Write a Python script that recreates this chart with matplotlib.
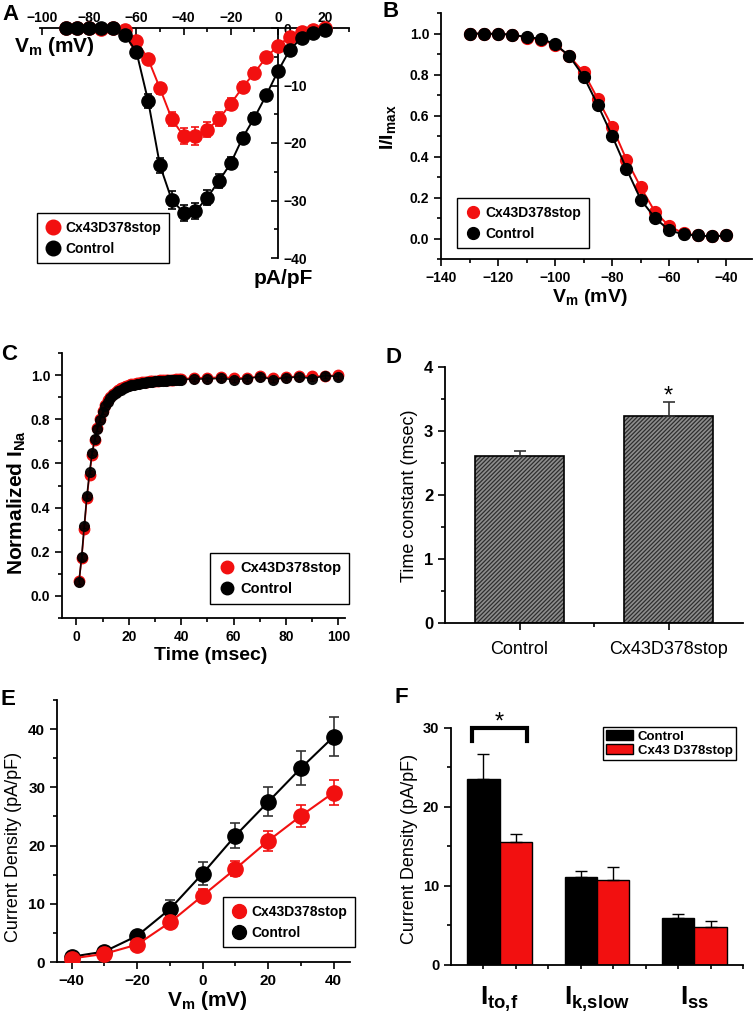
import matplotlib
matplotlib.use("Agg")
import matplotlib.pyplot as plt
from matplotlib.ticker import MultipleLocator, FixedLocator
from matplotlib.lines import Line2D
import numpy as np

plt.rcParams['font.family'] = ['Liberation Sans', 'DejaVu Sans']
plt.rcParams['font.weight'] = 'bold'
plt.rcParams['mathtext.fontset'] = 'custom'
plt.rcParams['mathtext.rm'] = 'Liberation Sans:bold'
plt.rcParams['mathtext.it'] = 'Liberation Sans:bold'
plt.rcParams['mathtext.bf'] = 'Liberation Sans:bold'
plt.rcParams['mathtext.default'] = 'rm'
plt.rcParams['hatch.linewidth'] = 0.9
plt.rcParams['axes.linewidth'] = 1.3

RED = '#f21010'
BLK = '#000000'

# ---- panel A: I-V of sodium current
vA = [-90, -85, -80, -75, -70, -65, -60, -55, -50, -45, -40, -35, -30, -25,
      -20, -15, -10, -5, 0, 5, 10, 15, 20]
redA = [0, 0, 0, -0.1, 0, -0.3, -2.2, -5.4, -10.5, -15.8, -18.8, -18.8, -17.7,
        -15.8, -13.2, -10.3, -7.8, -5.1, -3.1, -1.5, -0.7, -0.3, 0]
redA_err = [0, 0, 0, 0, 0, 0.2, 0.5, 0.8, 1.0, 1.2, 1.4, 1.5, 1.3, 1.2, 1.0,
            0.9, 0.8, 0.6, 0.5, 0.4, 0.3, 0.3, 0.2]
ctlA = [0, 0, 0, 0, 0, -1.2, -4.1, -12.7, -23.9, -29.9, -32.1, -31.9, -29.5,
        -26.6, -23.5, -19.1, -15.6, -11.7, -7.5, -3.8, -1.7, -0.8, -0.4]
ctlA_err = [0, 0, 0, 0, 0, 0.3, 0.6, 1.2, 1.3, 1.5, 1.4, 1.4, 1.3, 1.2, 1.0,
            0.9, 0.8, 0.8, 0.6, 0.5, 0.4, 0.3, 0.2]

# ---- panel B: steady-state inactivation
vB = [-130, -125, -120, -115, -110, -105, -100, -95, -90, -85, -80, -75, -70,
      -65, -60, -55, -50, -45, -40]
redB = [1.0, 0.997, 0.997, 0.995, 0.98, 0.97, 0.945, 0.89, 0.81, 0.68, 0.545,
        0.385, 0.25, 0.13, 0.06, 0.025, 0.015, 0.01, 0.015]
ctlB = [1.0, 1.0, 0.998, 0.995, 0.982, 0.975, 0.948, 0.89, 0.79, 0.65, 0.50,
        0.34, 0.19, 0.10, 0.04, 0.02, 0.015, 0.01, 0.015]

# ---- panel C: recovery from inactivation
tC = list(range(1, 41)) + [45, 50, 55, 60, 65, 70, 75, 80, 85, 90, 95, 100]
ctlC = [0.065, 0.178, 0.318, 0.452, 0.560, 0.647, 0.712, 0.758, 0.798, 0.832,
        0.858, 0.879, 0.895, 0.908, 0.918, 0.927, 0.934, 0.940, 0.945, 0.949,
        0.953, 0.956, 0.959, 0.961, 0.963, 0.965, 0.967, 0.968, 0.970, 0.971,
        0.972, 0.973, 0.974, 0.975, 0.976, 0.977, 0.978, 0.978, 0.979, 0.980,
        0.982, 0.983, 0.985, 0.980, 0.984, 0.993, 0.980, 0.988, 0.992, 0.984,
        0.998, 0.993]
redC = [0.068, 0.170, 0.305, 0.445, 0.548, 0.640, 0.708, 0.760, 0.803, 0.838,
        0.865, 0.886, 0.902, 0.915, 0.925, 0.933, 0.940, 0.946, 0.951, 0.955,
        0.958, 0.961, 0.963, 0.965, 0.967, 0.969, 0.970, 0.972, 0.973, 0.974,
        0.975, 0.976, 0.977, 0.978, 0.979, 0.980, 0.980, 0.981, 0.982, 0.982,
        0.988, 0.988, 0.990, 0.988, 0.986, 0.994, 0.986, 0.990, 0.995, 0.994,
        0.996, 1.000]

# ---- panel D: time constant
groupsD = ['Control', 'Cx43D378stop']
tauD = [2.61, 3.24]
tauD_err = [0.07, 0.22]

# ---- panel E: outward K current I-V
vE = [-40, -30, -20, -10, 0, 10, 20, 30, 40]
ctlE = [0.9, 1.8, 4.5, 9.1, 15.2, 21.7, 27.5, 33.3, 38.7]
ctlE_err = [0.3, 0.4, 0.6, 1.5, 1.9, 2.2, 2.5, 2.9, 3.4]
redE = [0.6, 1.4, 3.0, 6.8, 11.4, 16.0, 20.8, 25.1, 29.1]
redE_err = [0.2, 0.3, 0.5, 0.7, 1.1, 1.3, 1.7, 1.9, 2.1]

# ---- panel F: current components
compF = [r'I$_{to{,}f}$', r'I$_{k{,}slow}$', r'I$_{ss}$']
ctlF = [23.5, 11.1, 5.9]
ctlF_err = [3.2, 0.8, 0.55]
redF = [15.5, 10.8, 4.85]
redF_err = [1.1, 1.55, 0.75]

W, H = 756, 1018
fig = plt.figure(figsize=(W / 100, H / 100), dpi=100)


def box(l, t, r, b):
    return [l / W, 1 - b / H, (r - l) / W, (b - t) / H]


def ftxt(x, y, s, **kw):
    return fig.text(x / W, 1 - y / H, s, **kw)


def legend_at(ax, handles, labels, x, y, fs=10):
    lg = ax.legend(handles, labels, loc='upper left',
                   bbox_to_anchor=(x / W, 1 - y / H),
                   bbox_transform=fig.transFigure, fancybox=False,
                   framealpha=1, edgecolor='black',
                   handletextpad=0.3, borderpad=0.55, labelspacing=0.5,
                   handlelength=1.2, borderaxespad=0,
                   prop={'weight': 'bold', 'size': fs})
    lg.get_frame().set_linewidth(1.0)
    return lg


def dot(c, ms):
    return Line2D([], [], marker='o', ls='none', color=c, ms=ms)


def std_axes(ax):
    ax.spines['top'].set_visible(False)
    ax.spines['right'].set_visible(False)
    ax.tick_params(which='both', direction='out', width=1.2)
    ax.tick_params(which='major', length=5)
    ax.tick_params(which='minor', length=3)


# ================= A
axA = fig.add_axes(box(39.6, 28, 348.8, 258))
axA.set_xlim(-101, 30)
axA.set_ylim(-40, 0)
axA.spines['bottom'].set_visible(False)
axA.spines['left'].set_visible(False)
axA.spines['right'].set_position(('data', 0))
axA.xaxis.tick_top()
axA.yaxis.tick_right()
axA.set_xticks([-100, -80, -60, -40, -20, 0, 20])
axA.xaxis.set_minor_locator(MultipleLocator(10))
axA.set_yticks([0, -10, -20, -30, -40])
axA.yaxis.set_minor_locator(MultipleLocator(5))
axA.tick_params(axis='x', which='both', direction='in', labelsize=10, pad=2)
axA.tick_params(axis='y', which='both', direction='in', labelsize=10, pad=4)
axA.tick_params(which='major', length=5, width=1.2)
axA.tick_params(which='minor', length=3, width=1.2)
for lab in axA.get_yticklabels():
    lab.set_horizontalalignment('left')
axA.errorbar(vA, redA, yerr=redA_err, color=RED, ecolor=RED, marker='o', ms=9.5,
             lw=1.4, capsize=3, capthick=1.2, elinewidth=1.2, clip_on=False, zorder=3)
axA.errorbar(vA, ctlA, yerr=ctlA_err, color=BLK, ecolor=BLK, marker='o', ms=9.5,
             lw=1.4, capsize=3, capthick=1.2, elinewidth=1.2, clip_on=False, zorder=4)
legend_at(axA, [dot(RED, 10.5), dot(BLK, 10.5)], ['Cx43D378stop', 'Control'], 37, 213)
ftxt(14, 47, r'V$_{m}$ (mV)', fontsize=15, va='center', ha='left')
ftxt(283, 279, 'pA/pF', fontsize=15, va='center', ha='center')

# ================= B
axB = fig.add_axes(box(441, 13, 752, 259))
std_axes(axB)
axB.set_xlim(-140, -31)
axB.set_ylim(-0.1, 1.1)
axB.set_xticks([-140, -120, -100, -80, -60, -40])
axB.xaxis.set_minor_locator(MultipleLocator(10))
axB.set_yticks([0.0, 0.2, 0.4, 0.6, 0.8, 1.0])
axB.yaxis.set_minor_locator(MultipleLocator(0.1))
axB.tick_params(labelsize=10)
axB.errorbar(vB, redB, yerr=0.02, color=RED, marker='o', ms=8.5, lw=1.4,
             capsize=2, elinewidth=0.8, zorder=3)
axB.errorbar(vB, ctlB, yerr=0.02, color=BLK, marker='o', ms=8.5, lw=1.4,
             capsize=2, elinewidth=0.8, zorder=4)
legend_at(axB, [dot(RED, 8.5), dot(BLK, 8.5)], ['Cx43D378stop', 'Control'], 457, 198)
ftxt(590, 297, r'V$_{m}$ (mV)', fontsize=14, va='center', ha='center')
ftxt(388, 127, r'I/I$_{max}$', fontsize=14, va='center', ha='center', rotation=90)

# ================= C
axC = fig.add_axes(box(62, 353, 345, 618))
std_axes(axC)
axC.set_xlim(-5.5, 102.5)
axC.set_ylim(-0.1, 1.1)
axC.set_xticks([0, 20, 40, 60, 80, 100])
axC.xaxis.set_minor_locator(MultipleLocator(10))
axC.set_yticks([0.0, 0.2, 0.4, 0.6, 0.8, 1.0])
axC.yaxis.set_minor_locator(MultipleLocator(0.1))
axC.tick_params(labelsize=10)
axC.errorbar(tC, redC, yerr=0.01, color=RED, marker='o', ms=7.5, lw=1.2,
             capsize=1.5, elinewidth=0.8, zorder=3)
axC.errorbar(tC, ctlC, yerr=0.01, color=BLK, marker='o', ms=7, lw=1.2,
             capsize=1.5, elinewidth=0.8, zorder=4, alpha=0.9)
legend_at(axC, [dot(RED, 9), dot(BLK, 9)], ['Cx43D378stop', 'Control'], 210, 553,
          fs=10.5)
ftxt(211, 655, 'Time (msec)', fontsize=14, va='center', ha='center')
ftxt(17, 502, r'Normalized I$_{Na}$', fontsize=15, va='center', ha='center', rotation=90)

# ================= D
axD = fig.add_axes(box(445, 367, 743, 623))
std_axes(axD)
axD.set_xlim(0.5, 2.5)
axD.set_ylim(0, 4)
xD = np.arange(1, len(groupsD) + 1)
axD.bar(xD, tauD, width=0.6, color='#8e8e8e', edgecolor='#2e2e2e', hatch='////////',
        lw=0, zorder=2)
axD.bar(xD, tauD, width=0.6, color='none', edgecolor='black', lw=1.2, zorder=3)
axD.errorbar(xD, tauD, yerr=[[0] * len(tauD), tauD_err], fmt='none', ecolor='#333333',
             capsize=4, elinewidth=1.2, capthick=1.2, zorder=4)
axD.set_xticks(xD, groupsD, fontweight='normal', fontsize=13)
axD.xaxis.set_minor_locator(FixedLocator([1.5]))
axD.set_yticks([0, 1, 2, 3, 4])
axD.yaxis.set_minor_locator(MultipleLocator(0.5))
axD.tick_params(axis='y', labelsize=12)
axD.tick_params(axis='x', pad=8)
axD.text(xD[1], tauD[1] + tauD_err[1] - 0.1, '*', ha='center', va='bottom',
         fontsize=17, fontweight='normal')
ftxt(409, 496, 'Time constant (msec)', fontsize=13, va='center', ha='center',
     rotation=90, fontweight='normal')

# ================= E
axE = fig.add_axes(box(57, 700, 350, 962))
std_axes(axE)
axE.set_xlim(-44.5, 45)
axE.set_ylim(0, 45)
axE.set_xticks([-40, -20, 0, 20, 40])
axE.xaxis.set_minor_locator(MultipleLocator(10))
axE.set_yticks([0, 10, 20, 30, 40])
axE.yaxis.set_minor_locator(MultipleLocator(5))
axE.tick_params(labelsize=11)
axE.errorbar(vE, ctlE, yerr=ctlE_err, color=BLK, ecolor='#333333', marker='o', ms=11,
             lw=1.5, capsize=3.5, elinewidth=1.2, capthick=1.2, zorder=3)
axE.errorbar(vE, redE, yerr=redE_err, color=RED, ecolor=RED, marker='o', ms=11,
             lw=1.5, capsize=3.5, elinewidth=1.2, capthick=1.2, zorder=4)
legend_at(axE, [dot(RED, 10), dot(BLK, 10)], ['Cx43D378stop', 'Control'], 223, 897)
ftxt(207, 1000, r'V$_{m}$ (mV)', fontsize=15, va='center', ha='center')
ftxt(14, 847, 'Current Density (pA/pF)', fontsize=13, va='center', ha='center',
     rotation=90, fontweight='normal')

# ================= F
axF = fig.add_axes(box(451, 727.7, 743, 965))
std_axes(axF)
axF.set_xlim(0.5, 3.5)
axF.set_ylim(0, 30)
xF = np.arange(1, len(compF) + 1)
bw = 1 / 3
b1 = axF.bar(xF - bw / 2, ctlF, width=bw, color=BLK, edgecolor='black', lw=1, zorder=2)
b2 = axF.bar(xF + bw / 2, redF, width=bw, color=RED, edgecolor='black', lw=1, zorder=2)
axF.errorbar(xF - bw / 2, ctlF, yerr=[[0] * 3, ctlF_err], fmt='none', ecolor='black',
             capsize=4, elinewidth=1, capthick=1, zorder=3)
axF.errorbar(xF + bw / 2, redF, yerr=[[0] * 3, redF_err], fmt='none', ecolor='black',
             capsize=4, elinewidth=1, capthick=1, zorder=3)
axF.set_xticks(xF, compF, fontsize=19)
axF.tick_params(axis='x', which='major', length=0, pad=14)
axF.xaxis.set_minor_locator(FixedLocator(np.arange(0.5 + bw, 3.5 + 0.01, bw)))
axF.set_yticks([0, 10, 20, 30])
axF.yaxis.set_minor_locator(MultipleLocator(5))
axF.tick_params(axis='y', labelsize=10.5)
# significance bracket over I_to,f
bx0, bx1 = xF[0] - bw * 0.85, xF[0] + bw * 0.85
axF.plot([bx0, bx0, bx1, bx1], [28.3, 30, 30, 28.3], color='black', lw=3,
         clip_on=False, solid_joinstyle='miter', zorder=5)
axF.text(xF[0], 29.2, '*', ha='center', va='bottom', fontsize=17,
         fontweight='normal', clip_on=False)
lgF = axF.legend([b1, b2], ['Control', 'Cx43 D378stop'], loc='upper left',
                 bbox_to_anchor=(603 / W, 1 - 727 / H), bbox_transform=fig.transFigure,
                 fancybox=False, framealpha=1, edgecolor='black', borderaxespad=0,
                 handletextpad=0.4, borderpad=0.25, labelspacing=0.1,
                 handlelength=2.0, handleheight=0.8,
                 prop={'weight': 'bold', 'size': 9.5})
lgF.get_frame().set_linewidth(1.0)
ftxt(409, 849, 'Current Density (pA/pF)', fontsize=13, va='center', ha='center',
     rotation=90, fontweight='normal')

# panel letters
for lt, (px, py) in zip('ABCDEF', [(2, 4), (382, 1), (1, 344), (385, 347),
                                   (0, 689), (395, 687)]):
    ftxt(px, py, lt, fontsize=16, fontweight='bold', va='top', ha='left')

fig.savefig('out.png', dpi=100)
